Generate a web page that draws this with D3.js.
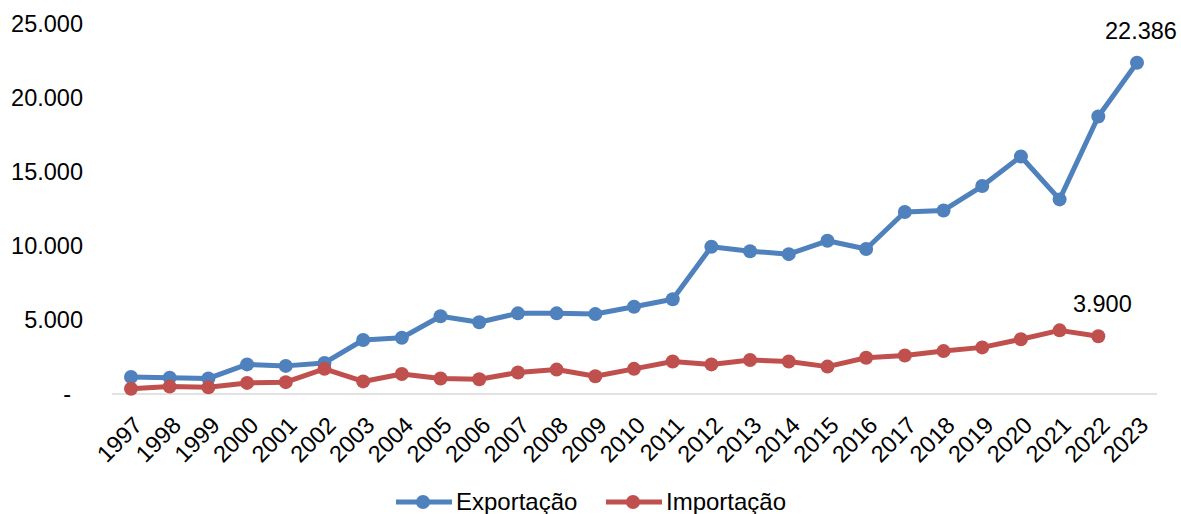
<!DOCTYPE html>
<html><head><meta charset="utf-8">
<script src="https://cdn.jsdelivr.net/npm/d3@7"></script>
<style>body{margin:0;background:#fff}svg{display:block;font-family:"Liberation Sans",Arial,sans-serif}</style>
</head><body><svg id="c" width="1181" height="514"></svg>
<script>
const years = ["1997","1998","1999","2000","2001","2002","2003","2004","2005","2006","2007","2008","2009","2010","2011","2012","2013","2014","2015","2016","2017","2018","2019","2020","2021","2022","2023"];
const exportacao = [1150,1100,1050,2000,1900,2100,3650,3800,5250,4850,5450,5450,5400,5900,6400,9950,9650,9450,10350,9800,12300,12400,14050,16050,13150,18750,22386];
const importacao = [350,500,450,750,800,1700,850,1350,1050,1000,1450,1650,1200,1700,2200,2000,2300,2200,1850,2450,2600,2900,3150,3700,4300,3900];
const yTicks = [0,5000,10000,15000,20000,25000];
const seriesNames = ["Exportação","Importação"];
const colors = ["#4F81BD","#C0504D"];

const svg = d3.select("#c");
const x = d3.scalePoint().domain(years).range([131,1137]);
const y = d3.scaleLinear().domain([0,25000]).range([394,24]);
const fmt = v => v===0 ? "-" : d3.format(",")(v).replace(/,/g,".");
const FS = 23.5;

// axis line
svg.append("line").attr("x1",112).attr("x2",1157).attr("y1",y(0)).attr("y2",y(0)).attr("stroke","#d9d9d9").attr("stroke-width",1.5);

// y labels
svg.append("g").selectAll("text").data(yTicks).join("text")
  .attr("x",d=>d===0 ? 71 : 83).attr("y",d=>y(d)).attr("dy","0.35em").attr("text-anchor","end")
  .attr("font-size",FS).attr("fill","#000").text(fmt);

// x labels
svg.append("g").selectAll("text").data(years).join("text")
  .attr("transform",d=>`translate(${x(d)+7},${y(0)+27}) rotate(-45)`)
  .attr("text-anchor","end").attr("dy","0.35em").attr("font-size",FS).attr("fill","#000").text(d=>d);

const data = [exportacao, importacao];
data.forEach((vals,i)=>{
  const pts = vals.map((v,j)=>[x(years[j]),y(v)]);
  svg.append("path").attr("d",d3.line()(pts)).attr("fill","none").attr("stroke",colors[i]).attr("stroke-width",5).attr("stroke-linejoin","round");
  svg.append("g").selectAll("circle").data(pts).join("circle").attr("cx",d=>d[0]).attr("cy",d=>d[1]).attr("r",7).attr("fill",colors[i]);
});

// data labels
const lastE = exportacao.length-1, lastI = importacao.length-1;
svg.append("text").attr("x",x(years[lastE])+4).attr("y",y(exportacao[lastE])-24).attr("text-anchor","middle").attr("font-size",FS).text(fmt(exportacao[lastE]));
svg.append("text").attr("x",x(years[lastI])+4).attr("y",y(importacao[lastI])-24).attr("text-anchor","middle").attr("font-size",FS).text(fmt(importacao[lastI]));

// legend
const lg = [[396,seriesNames[0]],[606,seriesNames[1]]];
lg.forEach(([lx,name],i)=>{
  const g = svg.append("g");
  g.append("line").attr("x1",lx).attr("x2",lx+56).attr("y1",502).attr("y2",502).attr("stroke",colors[i]).attr("stroke-width",5);
  g.append("circle").attr("cx",lx+27).attr("cy",502).attr("r",7).attr("fill",colors[i]);
  g.append("text").attr("x",lx+60).attr("y",502).attr("dy","0.35em").attr("font-size",24).text(name);
});
</script></body></html>
